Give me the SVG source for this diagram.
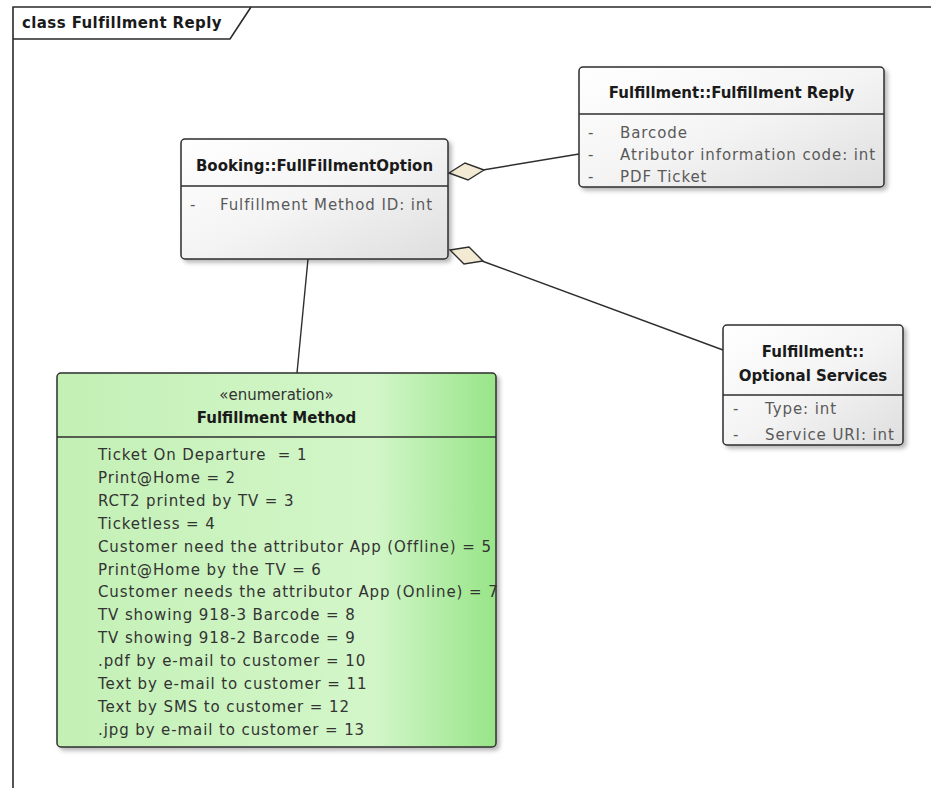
<svg xmlns="http://www.w3.org/2000/svg" width="931" height="788" viewBox="0 0 931 788">
<defs>
<linearGradient id="gClass" x1="0" y1="0" x2="1" y2="1">
<stop offset="0" stop-color="#ffffff"/>
<stop offset="0.5" stop-color="#f4f4f4"/>
<stop offset="1" stop-color="#dedede"/>
</linearGradient>
<linearGradient id="gEnum" x1="0" y1="0" x2="1" y2="0">
<stop offset="0" stop-color="#c3f0b5"/>
<stop offset="0.72" stop-color="#d3f6c9"/>
<stop offset="1" stop-color="#98e588"/>
</linearGradient>
<filter id="sh" x="-10%" y="-10%" width="130%" height="130%">
<feDropShadow dx="3" dy="3" stdDeviation="2" flood-color="#000" flood-opacity="0.28"/>
</filter>
</defs>
<style>
.box{stroke:#2e2e2e;stroke-width:1.5;filter:url(#sh)}
.cls{fill:url(#gClass)}
.enm{fill:url(#gEnum)}
.sep{stroke:#2e2e2e;stroke-width:1.3}
.ttl{font-family:"DejaVu Sans",sans-serif;font-size:15px;font-weight:bold;fill:#1a1a1a;text-anchor:middle}
.att{font-family:"DejaVu Sans",sans-serif;font-size:15px;fill:#5a5a5a;letter-spacing:0.9px}
.lit{font-family:"DejaVu Sans",sans-serif;font-size:15px;fill:#333;letter-spacing:0.9px}
.ste{font-family:"DejaVu Sans",sans-serif;font-size:15px;fill:#333;text-anchor:middle}
.con{stroke:#2e2e2e;stroke-width:1.4;fill:none}
.dia{fill:#f3ead3;stroke:#2e2e2e;stroke-width:1.4}
.frm{stroke:#2a2a2a;stroke-width:1.6;fill:none}
</style>
<rect width="931" height="788" fill="#ffffff"/>
<g id="frame">
<path class="frm" d="M13,788 L13,7 L931,7"/>
<path class="frm" d="M13,39 L230,39 L251,7"/>
<text x="22" y="28" font-family="DejaVu Sans, sans-serif" font-size="15" font-weight="bold" fill="#1a1a1a" letter-spacing="0.4">class Fulfillment Reply</text>
</g>
<g id="connectors">
<line class="con" x1="308" y1="259" x2="297" y2="373"/>
<line class="con" x1="483" y1="170" x2="579" y2="154"/>
<polygon class="dia" points="449,173 465,163 484,170 468,180"/>
<line class="con" x1="482" y1="261" x2="723" y2="350"/>
<polygon class="dia" points="450,250 469,247 483,261 464,264"/>
</g>
<g id="booking">
<rect class="box cls" x="181" y="139" width="267" height="120" rx="4"/>
<line class="sep" x1="181" y1="186" x2="448" y2="186"/>
<text class="ttl" x="314.5" y="171">Booking::FullFillmentOption</text>
<text class="att" x="190" y="210">-</text>
<text class="att" x="220" y="210">Fulfillment Method ID: int</text>
</g>
<g id="reply">
<rect class="box cls" x="579" y="67" width="305" height="120" rx="4"/>
<line class="sep" x1="579" y1="114" x2="884" y2="114"/>
<text class="ttl" x="731.5" y="98">Fulfillment::Fulfillment Reply</text>
<text class="att" x="588" y="138">-</text>
<text class="att" x="620" y="138">Barcode</text>
<text class="att" x="588" y="160">-</text>
<text class="att" x="620" y="160">Atributor information code: int</text>
<text class="att" x="588" y="182">-</text>
<text class="att" x="620" y="182">PDF Ticket</text>
</g>
<g id="optional">
<rect class="box cls" x="723" y="325" width="180" height="120" rx="4"/>
<line class="sep" x1="723" y1="395" x2="903" y2="395"/>
<text class="ttl" x="813" y="357">Fulfillment::</text>
<text class="ttl" x="813" y="381">Optional Services</text>
<text class="att" x="733" y="414">-</text>
<text class="att" x="765" y="414">Type: int</text>
<text class="att" x="733" y="440">-</text>
<text class="att" x="765" y="440">Service URI: int</text>
</g>
<g id="method">
<rect class="box enm" x="57" y="373" width="439" height="374" rx="4"/>
<line class="sep" x1="57" y1="437" x2="496" y2="437"/>
<text class="ste" x="276.5" y="400">«enumeration»</text>
<text class="ttl" x="276.5" y="423">Fulfillment Method</text>
<text class="lit" x="98" y="460" xml:space="preserve">Ticket On Departure  = 1</text>
<text class="lit" x="98" y="482.9">Print@Home = 2</text>
<text class="lit" x="98" y="505.8">RCT2 printed by TV = 3</text>
<text class="lit" x="98" y="528.7">Ticketless = 4</text>
<text class="lit" x="98" y="551.6">Customer need the attributor App (Offline) = 5</text>
<text class="lit" x="98" y="574.5">Print@Home by the TV = 6</text>
<text class="lit" x="98" y="597.4">Customer needs the attributor App (Online) = 7</text>
<text class="lit" x="98" y="620.3">TV showing 918-3 Barcode = 8</text>
<text class="lit" x="98" y="643.2">TV showing 918-2 Barcode = 9</text>
<text class="lit" x="98" y="666.1">.pdf by e-mail to customer = 10</text>
<text class="lit" x="98" y="689">Text by e-mail to customer = 11</text>
<text class="lit" x="98" y="711.9">Text by SMS to customer = 12</text>
<text class="lit" x="98" y="734.8">.jpg by e-mail to customer = 13</text>
</g>
</svg>
